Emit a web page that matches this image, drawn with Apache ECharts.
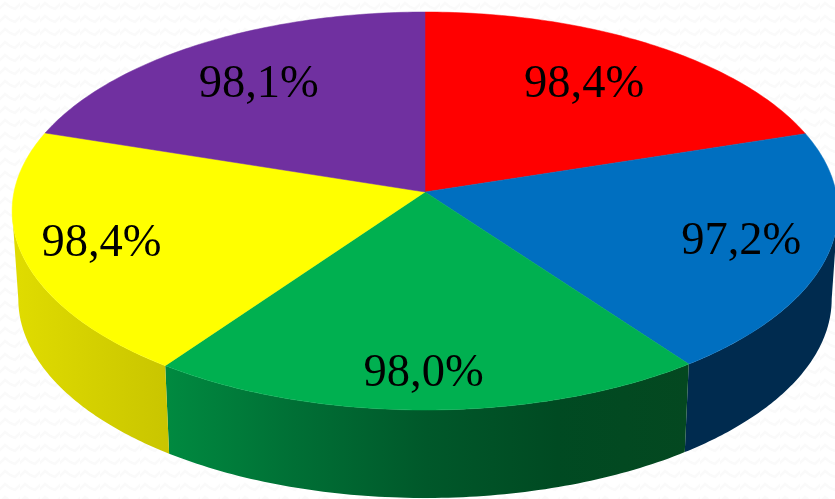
<!DOCTYPE html>
<html><head><meta charset="utf-8">
<style>html,body{margin:0;padding:0;background:#fdfdfd}#c{width:835px;height:499px}</style>
<script src="https://cdn.jsdelivr.net/npm/echarts@6/dist/echarts.min.js"></script>
</head><body><div id="c"></div>
<script>
const categories = ['A','B','C','D','E'];
const values = [98.4, 97.2, 98.0, 98.4, 98.1];
const labels = ['98,4%','97,2%','98,0%','98,4%','98,1%'];
const topColors = ['#ff0000','#006fc0','#00b050','#ffff00','#7030a0'];
const sideColors = [
  ['#990000','#990000'],
  ['#002b4f','#002b4f'],
  ['#008a40','#006f35','#00582a','#004a22','#044820'],
  ['#e0dc00','#c9c500'],
  ['#431d60','#431d60']
];
const labelRadius = [0.71, 0.79, 0.845, 0.80, 0.71];
const labelNudge = [[-4,0],[0,1],[-3.5,1],[-3.5,1],[-3.5,0]];

// view geometry of the tilted disc
const cx = 425, cy = 192, rx = 411, persp = 0.0955, ryTerm = 178.85;
const depth = 88, bottomScale = 0.985;
const extreme = Math.asin(persp);         // where the outline is widest
const visibleFrom = -extreme, visibleTo = -Math.PI + extreme;
const total = values.reduce((a, b) => a + b, 0);
const starts = [];
values.reduce((acc, v, i) => { starts[i] = acc; return acc + v; }, 0);
const ang = v => Math.PI / 2 - (v / total) * 2 * Math.PI;
function project(a, r, bottom) {
  const u = r * Math.cos(a), v = r * Math.sin(a), w = 1 + persp * v;
  const s = bottom ? bottomScale : 1;
  return [cx + s * rx * u / w, (cy - ryTerm * v) / w + (bottom ? depth : 0)];
}
function arc(a0, a1, bottom) {
  const pts = [], n = 80;
  for (let i = 0; i <= n; i++) pts.push(project(a0 + (a1 - a0) * i / n, 1, bottom));
  return pts;
}
const data = values.map((v, i) => ({ name: categories[i], value: v }));
const none = { coordinateSystem: 'none', silent: true, animation: false, data };

function renderSide(p, api) {
  const i = p.dataIndex;
  const a0 = Math.min(ang(starts[i]), visibleFrom);
  const a1 = Math.max(ang(starts[i] + values[i]), visibleTo);
  if (a0 <= a1) return null;
  const c = sideColors[i];
  return {
    type: 'polygon',
    shape: { points: arc(a0, a1, false).concat(arc(a0, a1, true).reverse()) },
    style: { fill: new echarts.graphic.LinearGradient(0, 0, 1, 0,
      c.map((col, k) => ({ offset: k / (c.length - 1), color: col }))) }
  };
}
function renderTop(p, api) {
  const i = p.dataIndex, a0 = ang(starts[i]), a1 = ang(starts[i] + values[i]);
  return {
    type: 'polygon',
    shape: { points: [project(0, 0, false)].concat(arc(a0, a1, false)) },
    style: { fill: topColors[i], stroke: topColors[i], lineWidth: 0.5 }
  };
}
function renderLabel(p, api) {
  const i = p.dataIndex, mid = ang(starts[i] + values[i] / 2);
  const pt = project(mid, labelRadius[i], false);
  return {
    type: 'text',
    style: { x: pt[0] + labelNudge[i][0], y: pt[1] + labelNudge[i][1], text: labels[i], fill: '#000',
      font: '46.5px "Liberation Serif"', align: 'center', verticalAlign: 'middle' }
  };
}
// faint wavy paper texture behind the chart
const tile = document.createElement('canvas');
tile.width = 20; tile.height = 13;
const t = tile.getContext('2d');
t.fillStyle = '#ffffff'; t.fillRect(0, 0, 20, 13);
t.strokeStyle = '#fafafa'; t.lineWidth = 2.5;
t.beginPath(); t.moveTo(-1, 9); t.lineTo(5, 3); t.lineTo(10, 7); t.lineTo(15, 9); t.lineTo(21, 3); t.stroke();

const chart = echarts.init(document.getElementById('c'), null, { width: 835, height: 499 });
chart.setOption({
  backgroundColor: { image: tile, repeat: 'repeat' },
  series: [
    Object.assign({ type: 'custom', z: 1, renderItem: renderSide }, none),
    Object.assign({ type: 'custom', z: 2, renderItem: renderTop }, none),
    Object.assign({ type: 'custom', z: 3, renderItem: renderLabel }, none)
  ]
});
</script></body></html>
